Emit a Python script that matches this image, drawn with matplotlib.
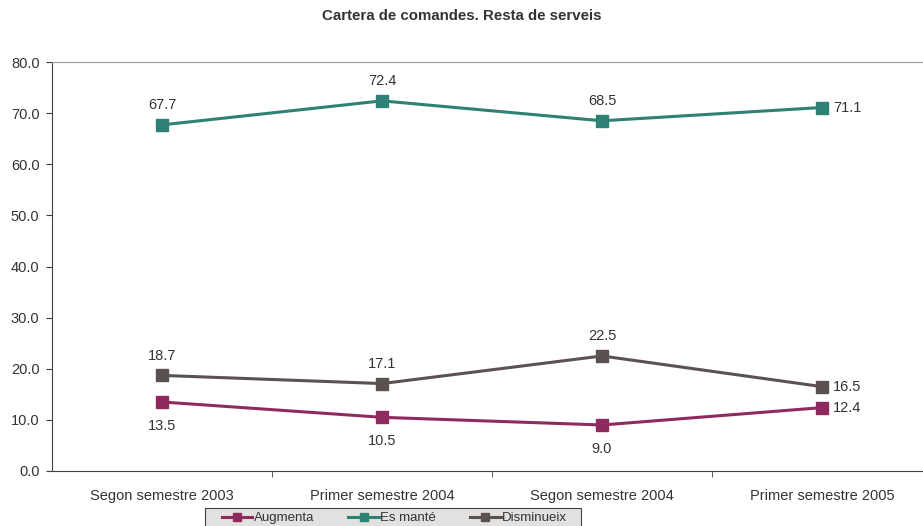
import numpy as np
import matplotlib.pyplot as plt
from matplotlib.ticker import FixedLocator
from matplotlib.patches import Rectangle

plt.rcParams['font.family'] = ['Liberation Sans', 'DejaVu Sans']

# data
periods = ['Segon semestre 2003', 'Primer semestre 2004', 'Segon semestre 2004', 'Primer semestre 2005']
augmenta = [13.5, 10.5, 9.0, 12.4]
es_mante = [67.7, 72.4, 68.5, 71.1]
disminueix = [18.7, 17.1, 22.5, 16.5]

col_aug = '#8E2A5E'
col_man = '#2F8075'
col_dis = '#595250'
txt = '#333333'

fig = plt.figure(figsize=(9.23, 5.26), dpi=100)
ax = fig.add_axes([52/923, 1-471/526, 880/923, 409/526])

x = np.arange(len(periods))
l1, = ax.plot(x, augmenta, color=col_aug, lw=2.2, marker='s', ms=8.5, label='Augmenta')
l2, = ax.plot(x, es_mante, color=col_man, lw=2.2, marker='s', ms=8.5, label='Es manté')
l3, = ax.plot(x, disminueix, color=col_dis, lw=2.2, marker='s', ms=8.5, label='Disminueix')

# value labels
fs = 10.5
for i in range(len(periods)):
    last = i == len(periods) - 1
    for vals, pos in ((es_mante, 'above'), (disminueix, 'above'), (augmenta, 'below')):
        v = vals[i]
        if last:
            ax.annotate(f'{v:.1f}', (x[i], v), xytext=(8, 0), textcoords='offset points',
                        ha='left', va='center', fontsize=fs, color=txt)
        elif pos == 'above':
            ax.annotate(f'{v:.1f}', (x[i], v), xytext=(0, 9), textcoords='offset points',
                        ha='center', va='bottom', fontsize=fs, color=txt)
        else:
            ax.annotate(f'{v:.1f}', (x[i], v), xytext=(0, -12), textcoords='offset points',
                        ha='center', va='top', fontsize=fs, color=txt)

ax.set_xlim(-0.5, 3.5)
ax.set_ylim(0, 80)
ax.set_yticks(np.arange(0, 81, 10))
ax.set_yticklabels([f'{v:.1f}' for v in np.arange(0, 81, 10)], fontsize=fs, color=txt)
ax.set_xticks(x)
ax.set_xticklabels(periods, fontsize=fs, color=txt)
ax.tick_params(axis='x', which='major', length=0, pad=13)
ax.xaxis.set_minor_locator(FixedLocator([0.5, 1.5, 2.5]))
ax.tick_params(axis='x', which='minor', length=4, color='#404040', direction='out')
ax.tick_params(axis='y', length=4, color='#404040', direction='out', pad=5)

ax.spines['right'].set_visible(False)
ax.spines['top'].set_color('#A39B95')
ax.spines['left'].set_color('#404040')
ax.spines['bottom'].set_color('#404040')

fig.text(0.5, 1-16/526, 'Cartera de comandes. Resta de serveis', ha='center', va='center',
         fontsize=10.8, fontweight='bold', color=txt)

# legend box drawn by hand, legend itself without frame
fig.patches.append(Rectangle((205/923, -0.02), 376/923, (526-508)/526 + 0.02,
                             transform=fig.transFigure, facecolor='#E3E1DF',
                             edgecolor='#404040', lw=0.8, zorder=0))
leg = fig.legend(handles=[l1, l2, l3], loc='center left', bbox_to_anchor=(222/923, 1-518/526),
                 ncol=3, fontsize=9.5, frameon=False, handlelength=2.3, borderpad=0,
                 borderaxespad=0, handletextpad=0.1, columnspacing=2.6, markerscale=0.75)
for t in leg.get_texts():
    t.set_color(txt)

fig.savefig('out.png', dpi=100)
